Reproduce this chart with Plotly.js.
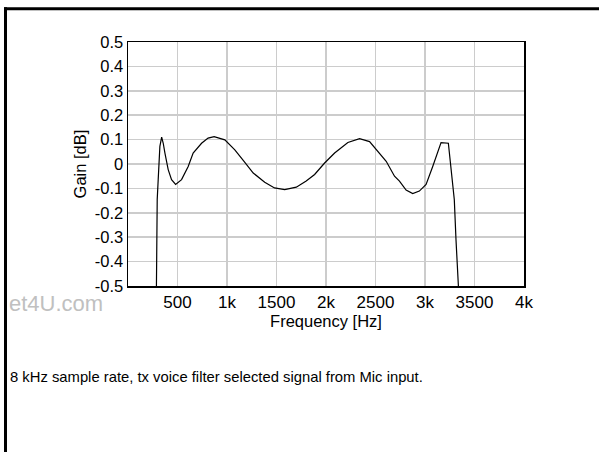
<!DOCTYPE html>
<html>
<head>
<meta charset="utf-8">
<script src="https://cdn.plot.ly/plotly-3.0.1.min.js"></script>
<style>
  html, body { margin: 0; padding: 0; background: #ffffff; }
  #chart { width: 599px; height: 452px; }
</style>
</head>
<body>
<div id="chart"></div>
<script>
// Frequency response data
var freqHz = [285, 295, 305, 322, 340, 356, 373, 406, 440, 481, 541, 608, 658, 743, 809, 870, 978, 1079, 1170, 1265, 1381, 1480, 1583, 1700, 1800, 1885, 1986, 2087, 2221, 2339, 2440, 2540, 2608, 2692, 2742, 2809, 2876, 2943, 3011, 3078, 3162, 3236, 3296, 3313, 3340, 3350];
var gainDb = [-0.6, -0.146, -0.064, 0.072, 0.11, 0.085, 0.045, -0.023, -0.064, -0.084, -0.064, -0.01, 0.045, 0.085, 0.106, 0.112, 0.099, 0.058, 0.012, -0.037, -0.075, -0.098, -0.105, -0.095, -0.07, -0.043, 0.004, 0.045, 0.088, 0.104, 0.092, 0.045, 0.011, -0.05, -0.07, -0.107, -0.121, -0.111, -0.084, -0.01, 0.088, 0.085, -0.146, -0.31, -0.5, -0.6];

// Axis ticks
var xTickVals = [500, 1000, 1500, 2000, 2500, 3000, 3500, 4000];
var xTickText = ['500', '1k', '1500', '2k', '2500', '3k', '3500', '4k'];
var yTickVals = [0.5, 0.4, 0.3, 0.2, 0.1, 0, -0.1, -0.2, -0.3, -0.4, -0.5];
var yTickText = ['0.5', '0.4', '0.3', '0.2', '0.1', '0', '-0.1', '-0.2', '-0.3', '-0.4', '-0.5'];

// Texts
var xTitle = 'Frequency [Hz]';
var yTitle = 'Gain [dB]';
var captionText = '8 kHz sample rate, tx voice filter selected signal from Mic input.';
var watermarkText = 'et4U.com';

var FONT = 'Liberation Sans, Arial, Helvetica, sans-serif';

// Plot area in pixels: x 128..524, y 42..286
var L = 128, R = 524, T = 42, B = 286;
function px(x) { return (x - L) / (R - L); }
function py(y) { return (B - y) / (B - T); }

var trace = {
  x: freqHz,
  y: gainDb,
  type: 'scatter',
  mode: 'lines',
  line: { color: '#000000', width: 1.2 },
  hoverinfo: 'skip',
  showlegend: false
};

var layout = {
  width: 599,
  height: 452,
  margin: { l: L, r: 599 - R, t: T, b: 452 - B, pad: 0 },
  paper_bgcolor: '#ffffff',
  plot_bgcolor: '#ffffff',
  font: { family: FONT, color: '#000000', size: 17 },
  showlegend: false,
  xaxis: {
    range: [0, 4000],
    tickvals: xTickVals,
    ticktext: xTickText,
    ticks: '',
    showgrid: true,
    gridcolor: '#cccccc',
    gridwidth: 1.5,
    zeroline: false,
    showline: true,
    mirror: true,
    linecolor: '#000000',
    linewidth: 1.5,
    tickfont: { family: FONT, size: 17, color: '#000000' },
    title: { text: xTitle, font: { family: FONT, size: 16.5, color: '#000000' }, standoff: 3 },
    automargin: false,
    fixedrange: true
  },
  yaxis: {
    range: [-0.5, 0.5],
    tickvals: yTickVals,
    ticktext: yTickText,
    ticks: '',
    showgrid: true,
    gridcolor: '#cccccc',
    gridwidth: 1.5,
    zeroline: false,
    showline: true,
    mirror: true,
    linecolor: '#000000',
    linewidth: 1.5,
    tickfont: { family: FONT, size: 16.5, color: '#000000' },
    title: { text: yTitle, font: { family: FONT, size: 16.5, color: '#000000' }, standoff: 4 },
    automargin: false,
    fixedrange: true
  },
  shapes: [
    { type: 'line', xref: 'paper', yref: 'paper', x0: px(4), x1: px(602), y0: py(8.7), y1: py(8.7), line: { color: '#000000', width: 3 } },
    { type: 'line', xref: 'paper', yref: 'paper', x0: px(5.5), x1: px(5.5), y0: py(7.2), y1: py(456), line: { color: '#000000', width: 3 } }
  ],
  annotations: [
    { xref: 'paper', yref: 'paper', x: px(7), y: py(303), xanchor: 'left', yanchor: 'middle', showarrow: false,
      text: watermarkText, font: { family: FONT, size: 22, color: '#c0c0c0' } },
    { xref: 'paper', yref: 'paper', x: px(8), y: py(377), xanchor: 'left', yanchor: 'middle', showarrow: false,
      text: captionText, font: { family: FONT, size: 14.8, color: '#000000' } }
  ]
};

Plotly.newPlot('chart', [trace], layout, { displayModeBar: false, staticPlot: true });
</script>
</body>
</html>
